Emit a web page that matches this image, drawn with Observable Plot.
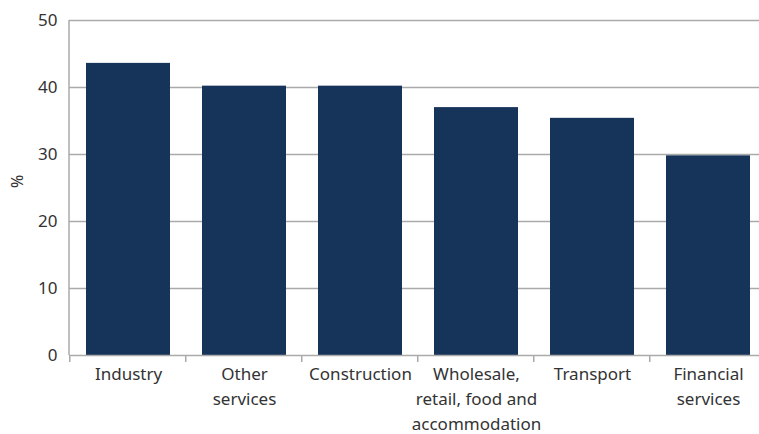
<!DOCTYPE html>
<html><head><meta charset="utf-8">
<script src="https://cdn.jsdelivr.net/npm/d3@7"></script>
<script src="https://cdn.jsdelivr.net/npm/@observablehq/plot@0.6"></script>
<style>
html,body{margin:0;padding:0;background:#fff;}
svg{font-family:"Noto Sans",sans-serif;}
</style></head>
<body><div id="chart"></div>
<script>
const categories = ["Industry", "Other services", "Construction", "Wholesale, retail, food and accommodation", "Transport", "Financial services"];
const tickLabels = ["Industry", "Other\nservices", "Construction", "Wholesale,\nretail, food and\naccommodation", "Transport", "Financial\nservices"];
const values = [43.6, 40.2, 40.2, 37.0, 35.4, 29.8];
const yTicks = [0, 10, 20, 30, 40, 50];
const yLabel = "%";

const data = categories.map((c, i) => ({cat: c, value: values[i], label: tickLabels[i]}));
const gray = "#aaaaaa";
const textColor = "#333333";

const plot = Plot.plot({
  width: 759, height: 434,
  marginLeft: 69, marginRight: -8, marginTop: 20, marginBottom: 79,
  style: {fontFamily: "'Noto Sans', sans-serif", fontSize: "17px", color: textColor, background: "#fff"},
  x: {domain: categories, paddingInner: 0.28, paddingOuter: 0.14, axis: null},
  y: {domain: [0, 50], axis: null},
  marks: [
    Plot.ruleY(yTicks.filter(d => d > 0), {stroke: gray, strokeWidth: 1.5}),
    Plot.barY(data, {x: "cat", y: "value", fill: "#16345a"}),
    Plot.ruleY([0], {stroke: gray, strokeWidth: 1.5}),
    Plot.axisY({ticks: yTicks, tickSize: 0, tickPadding: 12, fontSize: 17, fill: textColor, label: null}),
    Plot.text([yLabel], {frameAnchor: "left", rotate: -90, dx: -52, fontSize: 16, fill: textColor}),
    Plot.text(data, {x: "cat", y: () => 0, text: "label", lineAnchor: "top",
      dy: 7, lineHeight: 1.47, fontSize: 17, fill: textColor})
  ]
});
document.getElementById("chart").appendChild(plot);

// boundary ticks between categories, placed with the library's x scale
const xs = plot.scale("x");
const ys = plot.scale("y");
const svg = d3.select(plot);
const y0 = ys.apply(0);
const boundaries = categories.map(c => xs.apply(c) - xs.step * xs.paddingInner / 2);
boundaries.push(xs.apply(categories[categories.length - 1]) + xs.bandwidth + xs.step * xs.paddingInner / 2);
svg.append("g").selectAll("line").data(boundaries).join("line")
  .attr("x1", d => d).attr("x2", d => d).attr("y1", y0).attr("y2", y0 + 7)
  .attr("stroke", gray).attr("stroke-width", 1.5);
// left axis line
svg.append("line").attr("x1", xs.range[0]).attr("x2", xs.range[0])
  .attr("y1", ys.apply(50)).attr("y2", y0).attr("stroke", gray).attr("stroke-width", 1.5);
</script></body></html>
